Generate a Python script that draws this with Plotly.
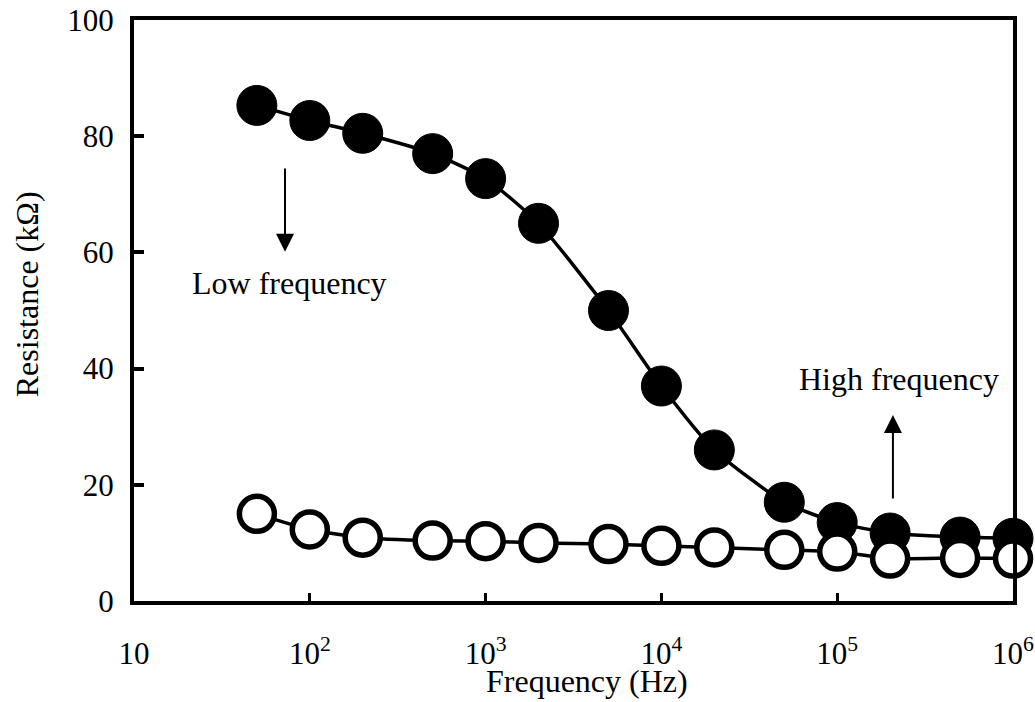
import plotly.graph_objects as go

freq = [50, 100, 200, 500, 1000, 2000, 5000, 1e4, 2e4, 5e4, 1e5, 2e5, 5e5, 1e6]
r_filled = [85.3, 82.7, 80.5, 77.0, 72.7, 65.0, 50.0, 37.0, 26.0, 17.0, 13.5, 11.7, 11.0, 10.8]
r_open = [15.0, 12.3, 10.9, 10.4, 10.3, 10.0, 9.8, 9.5, 9.2, 8.8, 8.5, 7.3, 7.4, 7.3]

x_tickvals = [10, 100, 1000, 1e4, 1e5, 1e6]
x_ticktext = ["10", "10<sup>2</sup>", "10<sup>3</sup>", "10<sup>4</sup>", "10<sup>5</sup>", "10<sup>6</sup>"]
y_tickvals = [0, 20, 40, 60, 80, 100]

FONT = "Liberation Serif"
TICK = 31
TXT = 32

fig = go.Figure()
fig.add_trace(go.Scatter(
    x=freq, y=r_filled, mode="lines+markers",
    line=dict(color="black", width=3.5, shape="spline", smoothing=0.6),
    marker=dict(symbol="circle", size=40, color="black", line=dict(color="black", width=1)),
    showlegend=False, cliponaxis=False))
fig.add_trace(go.Scatter(
    x=freq, y=r_open, mode="lines+markers",
    line=dict(color="black", width=3.5, shape="spline", smoothing=0.6),
    marker=dict(symbol="circle", size=35, color="white", line=dict(color="black", width=5.5)),
    showlegend=False, cliponaxis=False))

# arrows and labels
fig.add_annotation(x=1.859, y=60.1, ax=1.859, ay=74.7, xref="x", yref="y", axref="x", ayref="y",
                   showarrow=True, arrowhead=2, arrowsize=1.8, arrowwidth=2, arrowcolor="black", text="")
fig.add_annotation(x=5.317, y=32.0, ax=5.317, ay=17.4, xref="x", yref="y", axref="x", ayref="y",
                   showarrow=True, arrowhead=2, arrowsize=1.8, arrowwidth=2, arrowcolor="black", text="")
fig.add_annotation(x=1.887, y=54.7, xref="x", yref="y", text="Low frequency", showarrow=False,
                   font=dict(family=FONT, size=TXT, color="black"))
fig.add_annotation(x=5.349, y=38.2, xref="x", yref="y", text="High frequency", showarrow=False,
                   font=dict(family=FONT, size=TXT, color="black"))

# axis titles
fig.add_annotation(x=0.515, y=-0.1377, xref="paper", yref="paper", text="Frequency (Hz)",
                   showarrow=False, xanchor="center", yanchor="middle",
                   font=dict(family=FONT, size=TXT, color="black"))
fig.add_annotation(x=-0.1217, y=0.528, xref="paper", yref="paper", text="Resistance (kΩ)",
                   showarrow=False, textangle=-90, xanchor="center", yanchor="middle",
                   font=dict(family=FONT, size=TXT, color="black"))

fig.update_xaxes(type="log", range=[1, 6], tickvals=x_tickvals, ticktext=x_ticktext,
                 ticks="inside", ticklen=8, tickwidth=3, tickcolor="black",
                 showline=True, linewidth=4, linecolor="black", mirror=True,
                 showgrid=False, zeroline=False, automargin=False, ticklabelstandoff=22,
                 tickfont=dict(family=FONT, size=TICK, color="black"))
fig.update_yaxes(range=[0, 100], tickvals=y_tickvals,
                 ticks="inside", ticklen=10, tickwidth=4, tickcolor="black",
                 showline=True, linewidth=4, linecolor="black", mirror=True,
                 showgrid=False, zeroline=False, automargin=False, ticklabelstandoff=10,
                 tickfont=dict(family=FONT, size=TICK, color="black"))

fig.update_layout(width=1035, height=702, margin=dict(l=134, r=22, t=20, b=101),
                  plot_bgcolor="white", paper_bgcolor="white")
fig.write_html("out.html")
